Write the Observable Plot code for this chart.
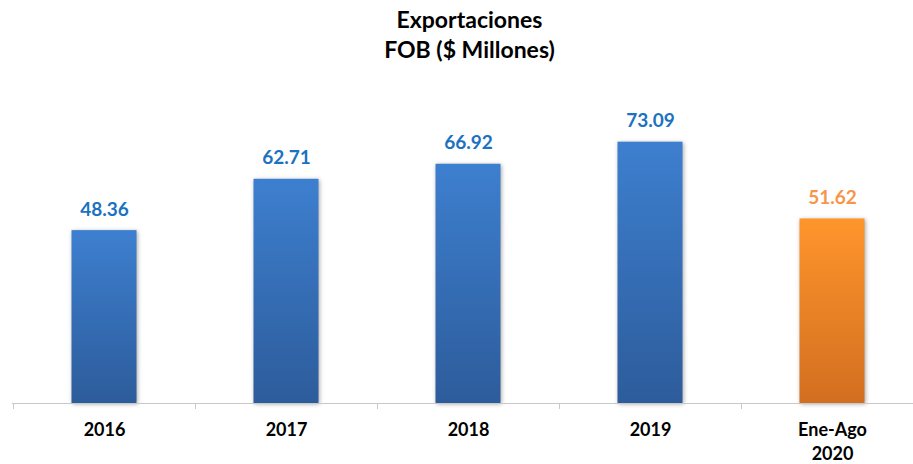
<!DOCTYPE html>
<html>
<head>
<meta charset="utf-8">
<script src="https://cdn.jsdelivr.net/npm/d3@7"></script>
<script src="https://cdn.jsdelivr.net/npm/@observablehq/plot@0.6"></script>
<style>
  html, body { margin: 0; padding: 0; background: #fff; }
  #title { width: 913px; height: 80px; box-sizing: border-box; padding-top: 4px; padding-left: 26px;
    font-family: Lato, "Open Sans", sans-serif; font-weight: bold; font-size: 23px;
    line-height: 30px; text-align: center; color: #000; }
</style>
</head>
<body>
<div id="title">Exportaciones<br>FOB ($ Millones)</div>
<div id="chart"></div>
<script>
const categories = ["2016", "2017", "2018", "2019", "Ene-Ago\n2020"];
const values = [48.36, 62.71, 66.92, 73.09, 51.62];
const kinds = ["annual", "annual", "annual", "annual", "partial"];

const data = categories.map((c, i) => ({cat: c, value: values[i], kind: kinds[i]}));
const annual = data.filter(d => d.kind === "annual");
const partial = data.filter(d => d.kind === "partial");

const font = "Lato, 'Open Sans', sans-serif";

const svg = Plot.plot({
  width: 913,
  height: 384,
  marginTop: 37,
  marginBottom: 61,
  marginLeft: 12,
  marginRight: 0,
  style: {fontFamily: font, background: "#fff", color: "#000"},
  x: {domain: categories, range: [12.5, 922.5], padding: 0, label: null},
  y: {domain: [0, 80], axis: null},
  marks: [
    Plot.barY(annual, {x: "cat", y: "value", fill: "url(#gBlue)", insetLeft: 58.5, insetRight: 58.5}),
    Plot.barY(partial, {x: "cat", y: "value", fill: "url(#gOrange)", insetLeft: 58.5, insetRight: 58.5}),
    Plot.ruleY([0], {stroke: "#c8c8c8", strokeWidth: 1}),
    Plot.axisX({tickSize: 6, tickFormat: () => "", dx: -91, stroke: "#c8c8c8"}),
    Plot.axisX({tickSize: 0, tickPadding: 15, fontSize: 18, fontWeight: "bold", lineHeight: 1.36, fill: "#000"}),
    Plot.text(annual, {x: "cat", y: "value", text: d => d.value.toFixed(2), dy: -21, lineAnchor: "middle",
      fill: "#1a72c0", fontSize: 19, fontWeight: "bold"}),
    Plot.text(partial, {x: "cat", y: "value", text: d => d.value.toFixed(2), dy: -21, lineAnchor: "middle",
      fill: "#f7964a", fontSize: 19, fontWeight: "bold"})
  ]
});

const ns = "http://www.w3.org/2000/svg";
const defs = document.createElementNS(ns, "defs");
defs.innerHTML = `
  <linearGradient id="gBlue" x1="0" y1="0" x2="0" y2="1">
    <stop offset="0" stop-color="#3d7fcf"/>
    <stop offset="1" stop-color="#2d5c9b"/>
  </linearGradient>
  <linearGradient id="gOrange" x1="0" y1="0" x2="0" y2="1">
    <stop offset="0" stop-color="#ff952c"/>
    <stop offset="1" stop-color="#d26e20"/>
  </linearGradient>`;
svg.insertBefore(defs, svg.firstChild);
svg.querySelectorAll('g[aria-label="bar"]').forEach(g => {
  g.style.filter = "drop-shadow(1px 1px 2px rgba(0,0,0,0.35))";
});
document.getElementById("chart").appendChild(svg);
</script>
</body>
</html>
